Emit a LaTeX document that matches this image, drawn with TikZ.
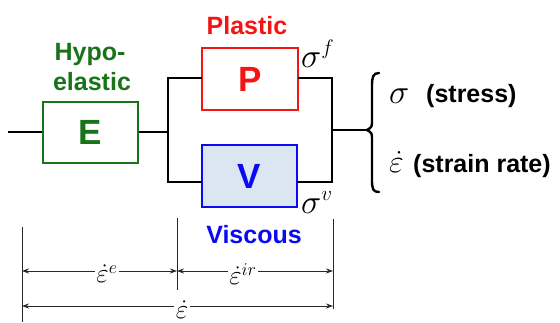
\RequirePackage{fix-cm}
\documentclass[tikz,border=0pt]{standalone}
\usepackage{fontspec}
\setmainfont{Liberation Sans}
\usetikzlibrary{arrows.meta}
\definecolor{egreen}{RGB}{25,115,25}
\definecolor{pred}{RGB}{245,20,20}
\definecolor{vblue}{RGB}{10,10,245}
\definecolor{vfill}{RGB}{220,230,242}
\definecolor{dimgray}{RGB}{40,40,40}
\begin{document}
\begin{tikzpicture}[x=1pt,y=-1pt,
  wire/.style={line width=2.6pt, line cap=rect},
  elem/.style={draw, line width=1.8pt, minimum width=95pt, minimum height=61pt, inner sep=0pt,
    font=\fontsize{35}{35}\selectfont\bfseries},
  lab/.style={font=\fontsize{25}{28}\selectfont\bfseries, inner sep=0pt, anchor=base},
  txt/.style={font=\fontsize{25}{28}\selectfont\bfseries, inner sep=0pt, anchor=base west},
  gk/.style={inner sep=0pt, anchor=base west, font=\fontsize{34}{34}\selectfont},
  dim/.style={line width=0.8pt, draw=dimgray},
  tip/.tip={Stealth[length=7pt,width=5pt]},
  dimlab/.style={fill=white, inner sep=1.5pt, font=\fontsize{27}{27}\selectfont}
]
\useasboundingbox (0,0) rectangle (560,322);

% elements
\node[elem, draw=egreen, text=egreen] (E) at (90.5,132.5) {E};
\node[elem, draw=pred, text=pred, minimum width=96pt, minimum height=62pt] (P) at (250,79) {P};
\node[elem, draw=vblue, fill=vfill, text=vblue, minimum height=62pt] (V) at (249.5,176) {V};

% labels
\node[lab, text=egreen] (hypo) at (90,60) {Hypo-};
\node[lab, text=egreen] (elastic) at (92,90) {elastic};
\node[lab, text=pred] (plastic) at (247,34.5) {Plastic};
\node[lab, text=vblue] (viscous) at (254,243) {Viscous};

% wire coordinates
\coordinate (in) at (8,132);
\coordinate (jl) at (168,132);
\coordinate (jlt) at (168,78);
\coordinate (jlb) at (168,182);
\coordinate (jrt) at (332,78);
\coordinate (jrb) at (332,182);
\coordinate (jr) at (332,130);
\coordinate (br) at (367,130);

\draw[wire, line cap=butt] (in) -- (E.west |- in);
\draw[wire, line cap=butt] (E.east |- jl) -- (jl);
\draw[wire] (P.west |- jlt) -- (jlt) -- (jlb) -- (V.west |- jlb);
\draw[wire] (P.east |- jrt) -- (jrt) -- (jrb) -- (V.east |- jrb);
\draw[wire, line cap=butt] (jr) -- (br);

% brace
\draw[line width=2.4pt, line cap=round]
  (379,73) .. controls (373,73) and (372,77) .. (372,86) -- (372,120)
  .. controls (372,127) .. (br)
  .. controls (372,133) .. (372,140) -- (372,180)
  .. controls (372,189) and (373,192) .. (379,192);

% stresses
\node[gk] (sf) at (301,67) {$\sigma^{\hbox{\fontsize{21}{21}\selectfont$f$}}$};
\node[gk] (sv) at (301,213) {$\sigma^{\hbox{\fontsize{21}{21}\selectfont$v$}}$};

% outputs
\node[gk] (sig) at (389,103) {$\sigma$};
\node[txt] (stress) at (426,102) {(stress)};
\node[gk, font=\fontsize{32}{32}\selectfont] (eps) at (389,172) {$\dot{\varepsilon}$};
\node[txt] (rate) at (413,172) {(strain rate)};

% dimension lines
\coordinate (d1t) at (22,227);
\coordinate (d1b) at (22,322);
\coordinate (d2t) at (177,218);
\coordinate (d2b) at (177,290);
\coordinate (d3t) at (333,219);
\coordinate (d3b) at (333,309);
\draw[dim] (d1t) -- (d1b);
\draw[dim] (d2t) -- (d2b);
\draw[dim] (d3t) -- (d3b);

\coordinate (a1) at (22,271);
\coordinate (a2) at (177,271);
\coordinate (a3) at (333,271);
\coordinate (b1) at (22,306);
\coordinate (b3) at (333,306);

\node[dimlab] (le) at (107,274) {$\dot{\varepsilon}^{\hbox{\fontsize{18}{18}\selectfont$e$}}$};
\node[dimlab] (lir) at (243,274) {$\dot{\varepsilon}^{\hbox{\fontsize{18}{18}\selectfont$ir$}}$};
\node[dimlab, anchor=base, inner ysep=0pt] (lt) at (182,318) {$\dot{\varepsilon}$};

\draw[dim, tip-] (a1) -- (le.west |- a1);
\draw[dim, -tip] (le.east |- a2) -- (a2);
\draw[dim, tip-] (a2) -- (lir.west |- a2);
\draw[dim, -tip] (lir.east |- a3) -- (a3);
\draw[dim, tip-] (b1) -- (lt.west |- b1);
\draw[dim, -tip] (lt.east |- b3) -- (b3);
\end{tikzpicture}
\end{document}
